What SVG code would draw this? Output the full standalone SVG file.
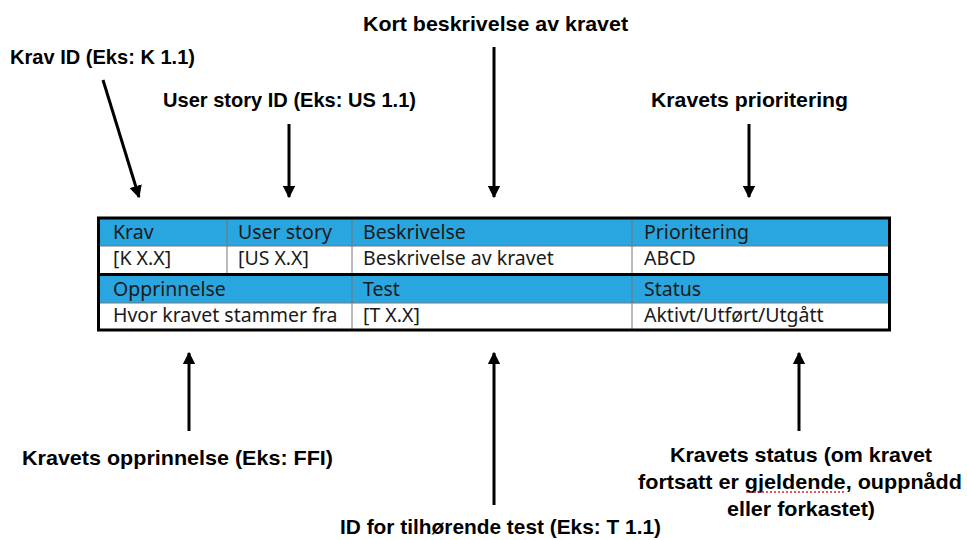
<svg xmlns="http://www.w3.org/2000/svg" width="967" height="540" viewBox="0 0 967 540">
<style>
.lbl{font-family:"Liberation Sans",Arial,sans-serif;font-weight:bold;font-size:21px;fill:#000}
.cell{font-family:"Noto Sans","Open Sans",sans-serif;font-size:19.5px;fill:#1a1a1a}
.hdr{fill:#29a6df}
.grid{stroke:#777;stroke-width:1;fill:none}
.con{stroke:#000;stroke-width:3;fill:none;marker-end:url(#ah)}
</style>
<defs>
<marker id="ah" viewBox="0 0 10 10" refX="9" refY="5" markerWidth="4.2" markerHeight="4.2" orient="auto" markerUnits="strokeWidth">
<path d="M0,0 L10,5 L0,10 z" fill="#000"/>
</marker>
</defs>
<rect width="967" height="540" fill="#fff"/>
<g id="table">
<rect x="99" y="219" width="790" height="110" fill="#fff"/>
<rect class="hdr" x="99" y="219" width="790" height="27"/>
<rect class="hdr" x="99" y="276" width="790" height="27"/>
<line class="grid" x1="99" y1="246" x2="889" y2="246"/>
<line class="grid" x1="99" y1="303" x2="889" y2="303"/>
<line class="grid" x1="227" y1="219" x2="227" y2="273"/>
<line class="grid" x1="352" y1="219" x2="352" y2="329"/>
<line class="grid" x1="632" y1="219" x2="632" y2="329"/>
<line x1="99" y1="274.5" x2="889" y2="274.5" stroke="#000" stroke-width="3"/>
<rect x="98.5" y="218" width="791" height="112" fill="none" stroke="#000" stroke-width="3"/>
<text class="cell" x="113" y="239">Krav</text>
<text class="cell" x="238" y="239">User story</text>
<text class="cell" x="363" y="239">Beskrivelse</text>
<text class="cell" x="644" y="239">Prioritering</text>
<text class="cell" x="113" y="265">[K X.X]</text>
<text class="cell" x="238" y="265">[US X.X]</text>
<text class="cell" x="363" y="265">Beskrivelse av kravet</text>
<text class="cell" x="644" y="265">ABCD</text>
<text class="cell" x="113" y="296">Opprinnelse</text>
<text class="cell" x="363" y="296">Test</text>
<text class="cell" x="644" y="296">Status</text>
<text class="cell" x="113" y="322">Hvor kravet stammer fra</text>
<text class="cell" x="363" y="322">[T X.X]</text>
<text class="cell" x="644" y="322">Aktivt/Utført/Utgått</text>
</g>
<g id="label-krav"><text class="lbl" x="10" y="64" textLength="185" lengthAdjust="spacingAndGlyphs">Krav ID (Eks: K 1.1)</text></g>
<g id="label-userstory"><text class="lbl" x="163" y="107" textLength="253" lengthAdjust="spacingAndGlyphs">User story ID (Eks: US 1.1)</text></g>
<g id="label-kort"><text class="lbl" x="363" y="31" textLength="265" lengthAdjust="spacingAndGlyphs">Kort beskrivelse av kravet</text></g>
<g id="label-prio"><text class="lbl" x="651" y="107" textLength="197" lengthAdjust="spacingAndGlyphs">Kravets prioritering</text></g>
<g id="label-opprinnelse"><text class="lbl" x="22" y="465" textLength="311" lengthAdjust="spacingAndGlyphs">Kravets opprinnelse (Eks: FFI)</text></g>
<g id="label-test"><text class="lbl" x="340" y="534" textLength="321" lengthAdjust="spacingAndGlyphs">ID for tilhørende test (Eks: T 1.1)</text></g>
<g id="label-status">
<text class="lbl" x="670" y="462" textLength="262" lengthAdjust="spacingAndGlyphs">Kravets status (om kravet</text>
<text class="lbl" x="638" y="489" textLength="324" lengthAdjust="spacingAndGlyphs">fortsatt er gjeldende, ouppnådd</text>
<text class="lbl" x="727" y="516" textLength="148" lengthAdjust="spacingAndGlyphs">eller forkastet)</text>
<line x1="746" y1="492" x2="844" y2="492" stroke="#e0202a" stroke-width="1.5" stroke-dasharray="2,2"/>
</g>
<g id="connectors">
<line class="con" x1="103" y1="80" x2="139" y2="197"/>
<line class="con" x1="289" y1="124" x2="289" y2="197"/>
<line class="con" x1="494" y1="47" x2="494" y2="197"/>
<line class="con" x1="749" y1="124" x2="749" y2="197"/>
<line class="con" x1="189" y1="431" x2="189" y2="353"/>
<line class="con" x1="494" y1="505" x2="494" y2="353"/>
<line class="con" x1="799" y1="431" x2="799" y2="353"/>
</g>
</svg>
